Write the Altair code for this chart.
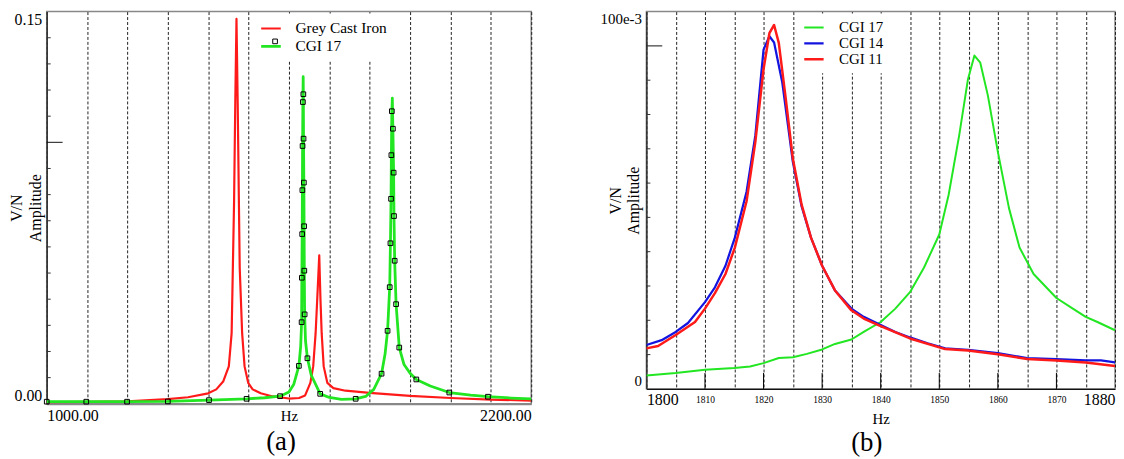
import altair as alt
import pandas as pd

FONT = "Liberation Serif"
RED = "#ff1a1a"
GREEN = "#22e622"
BLUE = "#1414e0"

# ---------------- Panel (a) data ----------------
GCI_F = [1000, 1100, 1200, 1300, 1350, 1400, 1420, 1437, 1451, 1458, 1461, 1464, 1467, 1470,
         1473, 1476, 1478, 1484, 1490, 1499, 1510, 1530, 1560, 1600, 1625, 1640, 1653, 1660,
         1666, 1670, 1675, 1678, 1681, 1686, 1695, 1710, 1740, 1800, 1900, 2000, 2100, 2200]
GCI_A = [0.0006, 0.0007, 0.0009, 0.0018, 0.0025, 0.0040, 0.0055, 0.0085, 0.0143, 0.027, 0.052,
         0.077, 0.115, 0.1472, 0.115, 0.077, 0.052, 0.027, 0.0143, 0.008, 0.0055, 0.0040, 0.0028,
         0.0020, 0.0022, 0.0032, 0.008, 0.0143, 0.027, 0.040, 0.0568, 0.040, 0.027, 0.0143, 0.008,
         0.0060, 0.0050, 0.0042, 0.0030, 0.0022, 0.0016, 0.0012]

CGI17A_F = [1000, 1098, 1199, 1300, 1402, 1495, 1540, 1578, 1600, 1612, 1624.6, 1629, 1631.3,
            1631.9, 1632.7, 1633.2, 1633.7, 1634.5, 1635.2, 1635.6, 1636.1, 1636.9, 1637.5, 1638.0,
            1638.8, 1641, 1645.7, 1655, 1677.3, 1700, 1730, 1765.2, 1790, 1810, 1829.3, 1838,
            1844.2, 1849.5, 1851.3, 1852.8, 1853.6, 1854.8, 1856, 1857.4, 1859.2, 1860.1, 1861.8,
            1865.3, 1873.2, 1885, 1900, 1915.4, 1950, 1997.1, 2050, 2092.9, 2150, 2200]
CGI17A_A = [0.0008, 0.0008, 0.0008, 0.0009, 0.0014, 0.0019, 0.0023, 0.0029, 0.0045, 0.0075, 0.0145,
            0.022, 0.0312, 0.0482, 0.0649, 0.0817, 0.0986, 0.1154, 0.1251, 0.1184, 0.1014, 0.0846,
            0.0679, 0.0509, 0.0342, 0.0240, 0.0174, 0.0110, 0.0038, 0.0024, 0.0017, 0.0019, 0.0028,
            0.0055, 0.0115, 0.0190, 0.0279, 0.0446, 0.0614, 0.0784, 0.0951, 0.1119, 0.1169, 0.1052,
            0.0884, 0.0718, 0.0547, 0.0381, 0.0215, 0.0150, 0.0117, 0.0093, 0.0068, 0.0043, 0.0033,
            0.0027, 0.0022, 0.0019]

MARK_F = [1000, 1098, 1199, 1300, 1402, 1495, 1578, 1624.6, 1631.3, 1631.9, 1632.7, 1633.2, 1633.7,
          1634.5, 1635.6, 1636.1, 1636.9, 1637.5, 1638.0, 1638.8, 1645.7, 1677.3, 1765.2, 1829.3,
          1844.2, 1849.5, 1851.3, 1852.8, 1853.6, 1854.8, 1857.4, 1859.2, 1860.1, 1861.8, 1865.3,
          1873.2, 1915.4, 1997.1, 2092.9]
MARK_A = [0.0008, 0.0008, 0.0008, 0.0009, 0.0014, 0.0019, 0.0029, 0.0145, 0.0312, 0.0482, 0.0649,
          0.0817, 0.0986, 0.1154, 0.1184, 0.1014, 0.0846, 0.0679, 0.0509, 0.0342, 0.0174, 0.0038,
          0.0019, 0.0115, 0.0279, 0.0446, 0.0614, 0.0784, 0.0951, 0.1119, 0.1052, 0.0884, 0.0718,
          0.0547, 0.0381, 0.0215, 0.0093, 0.0043, 0.0027]

A_XGRID = [1000, 1100, 1200, 1300, 1400, 1500, 1600, 1700, 1800, 1900, 2000, 2100, 2200]
A_YTICKS = [0.01, 0.02, 0.03, 0.04, 0.05, 0.06, 0.07, 0.08, 0.09, 0.11, 0.12, 0.13, 0.14]
A_YLONG = [0.10]

# ---------------- Panel (b) data ----------------
B17_F = [1800, 1805, 1810, 1815, 1817.7, 1820, 1822.6, 1825, 1827.4, 1830, 1832.2, 1835, 1837.1,
         1840, 1842.5, 1845, 1847.4, 1850, 1851.6, 1853.4, 1854.9, 1856, 1857, 1858.3, 1860,
         1861.9, 1863.7, 1866.1, 1870, 1872.8, 1875, 1877, 1880]
B17_A = [0.0039, 0.0046, 0.0056, 0.0061, 0.0065, 0.0075, 0.0090, 0.0092, 0.0102, 0.0115, 0.0131,
         0.0144, 0.0166, 0.0195, 0.0234, 0.0282, 0.0354, 0.0450, 0.0566, 0.0739, 0.0903, 0.0972,
         0.0951, 0.0855, 0.0691, 0.0527, 0.0412, 0.0335, 0.0265, 0.0234, 0.0210, 0.0195, 0.0171]

B14_F = [1800, 1802.6, 1805, 1807.1, 1810, 1811.7, 1813.5, 1815.1, 1817.1, 1818.6, 1820, 1821,
         1821.8, 1823.2, 1825, 1826.5, 1828.1, 1830, 1832.2, 1835, 1837.1, 1840, 1842.5, 1845,
         1848, 1851, 1854.9, 1860, 1865, 1870, 1875, 1877.6, 1880]
B14_A = [0.0128, 0.0142, 0.0166, 0.0192, 0.0253, 0.0296, 0.0359, 0.0441, 0.0575, 0.0739, 0.0989,
         0.1028, 0.1010, 0.0893, 0.0662, 0.0532, 0.0441, 0.0359, 0.0287, 0.0234, 0.0210, 0.0186,
         0.0166, 0.0150, 0.0133, 0.0118, 0.0114, 0.0104, 0.0090, 0.0087, 0.0083, 0.0083, 0.0077]

B11_F = [1800, 1802, 1805, 1808.3, 1810, 1811.7, 1813.5, 1815.1, 1817.1, 1818.6, 1820, 1821,
         1821.8, 1822.6, 1823.8, 1825, 1826.5, 1828.1, 1830, 1832.2, 1835, 1837.1, 1840, 1845,
         1851, 1854.9, 1860, 1865, 1870, 1875, 1880]
B11_A = [0.0118, 0.0125, 0.0157, 0.0195, 0.0234, 0.0279, 0.0335, 0.0412, 0.0547, 0.0720, 0.0932,
         0.1037, 0.1061, 0.1009, 0.0845, 0.0672, 0.0537, 0.0441, 0.0359, 0.0287, 0.0229, 0.0205,
         0.0183, 0.0147, 0.0116, 0.0112, 0.0101, 0.0087, 0.0083, 0.0077, 0.0067]

B_XGRID = [1800, 1805, 1810, 1815, 1820, 1825, 1830, 1835, 1840, 1845, 1850, 1855, 1860, 1865,
           1870, 1875, 1880]
B_XTICKS = [1810, 1820, 1830, 1840, 1850, 1860, 1870]
B_YTICKS = [0.01, 0.02, 0.03, 0.04, 0.05, 0.06, 0.07, 0.08, 0.09]
B_YLONG = [0.10]

WA, HA = 488, 395
WB, HB = 472, 380

# ---------------- Panel (a) ----------------
df_a = pd.concat([
    pd.DataFrame({"f": GCI_F, "a": GCI_A, "series": "Grey Cast Iron"}),
    pd.DataFrame({"f": CGI17A_F, "a": CGI17A_A, "series": "CGI 17"}),
])
df_mark = pd.DataFrame({"f": MARK_F, "a": MARK_A, "mk": "CGI 17"})

xa = alt.X("f:Q", scale=alt.Scale(domain=[1000, 2200], nice=False, zero=False),
           axis=alt.Axis(values=A_XGRID,
                         labelExpr="datum.value == 1000 || datum.value == 2200 ? format(datum.value, '.2f') : ''",
                         labelFlush=True, labelOverlap=False, grid=True, gridDash=[3, 2],
                         gridColor="#222222", gridWidth=1, ticks=False, tickSize=0,
                         labelPadding=4, labelFontSize=16, title="Hz", titleY=5,
                         titleBaseline="top", titleFontSize=15, domainColor="#888888",
                         domainWidth=2))
ya = alt.Y("a:Q", scale=alt.Scale(domain=[0, 0.15], nice=False, zero=True),
           axis=alt.Axis(values=[0, 0.15], format=".2f", labelFlush=True, grid=False,
                         ticks=False, tickSize=0, labelPadding=5, labelFontSize=16,
                         title=["V/N", "Amplitude"], titleX=-30, titleY=HA / 2,
                         titleAlign="center", titleBaseline="middle", titleFontSize=16,
                         titleLineHeight=19, domainColor="#333333", domainWidth=1.5))

lines_a = alt.Chart(df_a).mark_line(strokeJoin="round", clip=True).encode(
    x=xa, y=ya,
    color=alt.Color("series:N",
                    scale=alt.Scale(domain=["Grey Cast Iron", "CGI 17"], range=[RED, GREEN]),
                    legend=alt.Legend(title=None, orient="none", legendX=210, legendY=2,
                                      symbolType="M-2.4,0H2.4", symbolSize=100,
                                      symbolStrokeWidth=2.5, labelFontSize=15.5, labelFont=FONT,
                                      labelOffset=19, fillColor="white", padding=6,
                                      clipHeight=18, rowPadding=0, zindex=1)),
    strokeWidth=alt.StrokeWidth("series:N",
                                scale=alt.Scale(domain=["Grey Cast Iron", "CGI 17"], range=[2.2, 2.8]),
                                legend=None),
)
marks_a = alt.Chart(df_mark).mark_point(filled=False, size=22, color="black", strokeWidth=1,
                                        opacity=1).encode(
    x=xa, y=ya,
    shape=alt.Shape("mk:N", scale=alt.Scale(domain=["CGI 17"], range=["square"]),
                    legend=alt.Legend(title=None, orient="none", legendX=223, legendY=23,
                                      labelExpr="''", labelFontSize=14, symbolSize=22,
                                      symbolStrokeColor="black", symbolStrokeWidth=1,
                                      padding=0, zindex=3)),
)
ticks_a = alt.Chart(pd.DataFrame({"a": A_YTICKS})).mark_rule(color="#333333", strokeWidth=1).encode(
    y=ya, x=alt.value(0), x2=alt.value(4))
long_a = alt.Chart(pd.DataFrame({"a": A_YLONG})).mark_rule(color="#111111", strokeWidth=1).encode(
    y=ya, x=alt.value(0), x2=alt.value(16))

panel_a = alt.layer(lines_a, marks_a, ticks_a, long_a).properties(
    width=WA, height=HA,
    title=alt.TitleParams("(a)", orient="bottom", fontSize=27, font=FONT, fontWeight="normal",
                          offset=6, anchor="middle", dx=-8))

# ---------------- Panel (b) ----------------
df_b = pd.concat([
    pd.DataFrame({"f": B17_F, "a": B17_A, "series": "CGI 17"}),
    pd.DataFrame({"f": B14_F, "a": B14_A, "series": "CGI 14"}),
    pd.DataFrame({"f": B11_F, "a": B11_A, "series": "CGI 11"}),
])

xb = alt.X("f:Q", scale=alt.Scale(domain=[1800, 1880], nice=False, zero=False),
           axis=alt.Axis(values=B_XGRID,
                         labelExpr="datum.value % 10 == 0 ? format(datum.value, 'd') : ''",
                         labelFlush=True, labelOverlap=False,
                         labelFontSize=alt.condition("datum.value == 1800 || datum.value == 1880",
                                                     alt.value(16), alt.value(9.5)),
                         labelBaseline="middle", labelPadding=11,
                         grid=True, gridDash=[3, 2], gridColor="#222222", gridWidth=1,
                         ticks=False, tickSize=0, title="Hz", titleY=30, titleBaseline="middle",
                         titleFontSize=15, domainColor="#111111", domainWidth=1.5))
yb = alt.Y("a:Q", scale=alt.Scale(domain=[0, 0.11], nice=False, zero=True),
           axis=alt.Axis(values=[0, 0.11], labelExpr="datum.value == 0 ? '0' : '100e-3'",
                         labelFlush=True, grid=False, ticks=False, tickSize=0, labelPadding=5,
                         labelFontSize=15, title=["V/N", "Amplitude"], titleX=-31,
                         titleY=HB / 2, titleAlign="center", titleBaseline="middle",
                         titleFontSize=16, titleLineHeight=18.5, domainColor="#333333",
                         domainWidth=1.5))

lines_b = alt.Chart(df_b).mark_line(strokeJoin="round", clip=True).encode(
    x=xb, y=yb,
    color=alt.Color("series:N",
                    scale=alt.Scale(domain=["CGI 17", "CGI 14", "CGI 11"], range=[GREEN, BLUE, RED]),
                    legend=alt.Legend(title=None, orient="none", legendX=153, legendY=2,
                                      symbolType="M-2.4,0H2.4", symbolSize=100,
                                      symbolStrokeWidth=2, labelFontSize=15, labelFont=FONT,
                                      labelOffset=20, fillColor="white", padding=6,
                                      clipHeight=16, rowPadding=0)),
    strokeWidth=alt.StrokeWidth("series:N",
                                scale=alt.Scale(domain=["CGI 17", "CGI 14", "CGI 11"],
                                                range=[2, 2.5, 1.4]),
                                legend=None),
)
xt_b = alt.Chart(pd.DataFrame({"f": B_XTICKS})).mark_rule(color="black", strokeWidth=1).encode(
    x=xb, y=alt.value(HB), y2=alt.value(HB - 16))
ticks_b = alt.Chart(pd.DataFrame({"a": B_YTICKS})).mark_rule(color="#333333", strokeWidth=1).encode(
    y=yb, x=alt.value(0), x2=alt.value(4))
long_b = alt.Chart(pd.DataFrame({"a": B_YLONG})).mark_rule(color="#111111", strokeWidth=1).encode(
    y=yb, x=alt.value(0), x2=alt.value(16))

panel_b = alt.layer(lines_b, xt_b, ticks_b, long_b).properties(
    width=WB, height=HB,
    title=alt.TitleParams("(b)", orient="bottom", fontSize=27, font=FONT, fontWeight="normal",
                          offset=4, anchor="middle", dx=-14))

chart = alt.hconcat(panel_a, panel_b, spacing=67).resolve_scale(
    x="independent", y="independent", color="independent", strokeWidth="independent",
    shape="independent"
).properties(
    padding={"left": 0, "top": 1, "right": 0, "bottom": 0}
).configure(font=FONT).configure_view(
    stroke="#888888", strokeWidth=1.5
).configure_axis(
    labelFont=FONT, titleFont=FONT, labelColor="black", titleColor="black",
    titleFontWeight="normal"
)

chart.save("out.html", embed_options={"renderer": "svg", "actions": False})
